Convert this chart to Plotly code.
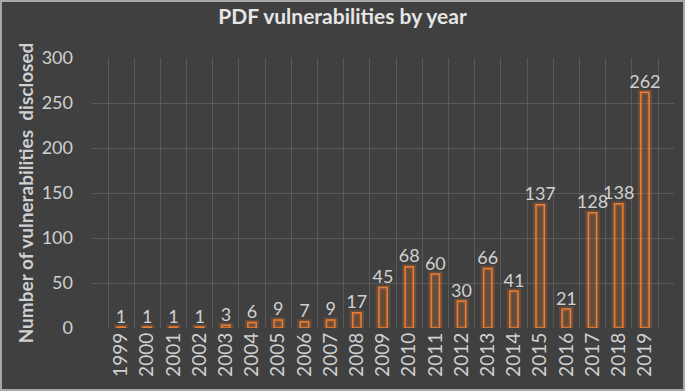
import plotly.graph_objects as go

years = [str(y) for y in range(1999, 2020)]
counts = [1, 1, 1, 1, 3, 6, 9, 7, 9, 17, 45, 68, 60, 30, 66, 41, 137, 21, 128, 138, 262]
y_ticks = [0, 50, 100, 150, 200, 250, 300]

txt = "#d0d0d0"
L, R, T, B = 92, 11, 58, 63
PW, PH = 685 - L - R, 391 - T - B

fig = go.Figure()
# glow
fig.add_trace(go.Bar(
    x=years, y=counts, width=0.36,
    marker=dict(color="rgba(0,0,0,0)", line=dict(color="rgba(237,125,49,0.22)", width=5)),
    hoverinfo="skip", showlegend=False,
))
fig.add_trace(go.Bar(
    x=years, y=counts, width=0.32,
    marker=dict(color="rgba(237,125,49,0.2)", line=dict(color="#ED7D31", width=1.5)),
    showlegend=False,
))
fig.add_trace(go.Scatter(
    x=years, y=counts, mode="text", text=[str(c) for c in counts],
    textposition="top center", cliponaxis=False,
    textfont=dict(color=txt, size=18, family="Lato"),
    showlegend=False, hoverinfo="skip",
))
fig.update_layout(
    width=685, height=391,
    paper_bgcolor="#404040", plot_bgcolor="#404040",
    barmode="overlay",
    margin=dict(l=L, r=R, t=T, b=B, autoexpand=False),
    title=dict(text="<b>PDF vulnerabilities by year</b>", x=0.5, xanchor="center",
               y=0.975, yanchor="top", font=dict(size=21, color="#e6e6e6", family="Lato")),
    font=dict(family="Lato", color=txt),
    xaxis=dict(type="category", tickson="boundaries", showgrid=True, automargin=False,
               gridcolor="#5a5a5a", gridwidth=1, tickangle=-90,
               tickfont=dict(size=19, color=txt), ticks="", showline=False,
               zeroline=False),
    yaxis=dict(range=[0, 300], tickvals=y_ticks, gridcolor="#5a5a5a", automargin=False,
               tickfont=dict(size=18, color=txt), zeroline=False, showline=False,
               ticklabelstandoff=18,
               title=dict(text="<b>Number of vulnerabilities  disclosed</b>",
                          font=dict(size=19, color=txt), standoff=3)),
    shapes=[dict(type="rect", xref="paper", yref="paper",
                 x0=(-L + 1) / PW, x1=1 + (R - 1) / PW,
                 y0=(-B + 1) / PH, y1=1 + (T - 1) / PH,
                 line=dict(color="#a8a8a8", width=2), fillcolor="rgba(0,0,0,0)")],
)
fig.write_html("out.html", config={"displayModeBar": False},
               post_script="document.body.style.margin='0';document.body.style.overflow='hidden';")
